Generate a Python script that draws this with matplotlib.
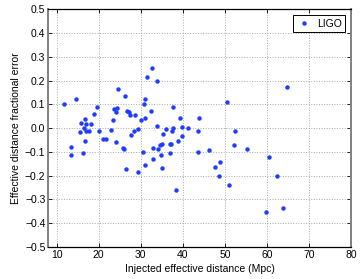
import matplotlib
matplotlib.use("Agg")
from matplotlib import pyplot as plt
from matplotlib.ticker import MultipleLocator

plt.rcParams['font.family'] = ['Liberation Sans', 'DejaVu Sans']

# injected effective distance (Mpc)
distance = [11.8, 14.6, 24.6, 26.2, 19.5, 19.0, 16.7, 15.7, 16.9, 18.2,
            16.6, 15.6, 16.9, 17.8, 20.0, 21.0, 21.8, 22.9, 24.0, 23.3,
            24.1, 23.6, 24.3, 26.8, 27.3, 27.5, 28.7, 30.0, 30.7, 31.0,
            31.1, 29.4, 28.4, 27.6, 25.8, 25.9, 13.5, 13.4, 16.2, 16.8,
            30.5, 32.6, 31.6, 33.8, 37.7, 50.4, 32.4, 39.3, 43.8, 33.8,
            35.9, 37.7, 37.5, 39.7, 41.2, 43.7, 52.5, 35.4, 39.8, 38.9,
            52.2, 32.9, 34.1, 34.6, 35.1, 36.9, 37.2, 34.9, 36.9, 43.6,
            46.2, 26.4, 29.4, 31.1, 33.0, 35.0, 38.4, 48.9, 47.7, 48.6,
            51.1, 64.8, 55.2, 60.5, 62.4, 63.8, 59.7]

# effective distance fractional error
frac_error = [0.100, 0.124, 0.166, 0.134, 0.087, 0.058, 0.038, 0.021, 0.018, 0.017,
              0.000, -0.016, -0.014, -0.011, -0.011, -0.047, -0.048, -0.007, -0.058, 0.035,
              0.066, 0.079, 0.086, 0.073, 0.066, 0.057, 0.053, 0.033, 0.102, 0.121,
              0.041, -0.003, -0.014, -0.031, -0.083, -0.089, -0.079, -0.113, -0.104, -0.056,
              -0.102, 0.251, 0.215, 0.198, 0.087, 0.108, 0.073, 0.041, 0.044, 0.009,
              -0.006, 0.002, -0.013, 0.003, 0.001, -0.013, -0.014, -0.025, -0.033, -0.054,
              -0.073, -0.084, -0.089, -0.072, -0.069, -0.065, -0.068, -0.112, -0.103, -0.100,
              -0.093, -0.173, -0.184, -0.156, -0.130, -0.167, -0.259, -0.142, -0.162, -0.201,
              -0.238, 0.174, -0.086, -0.122, -0.203, -0.338, -0.354]

fig = plt.figure(figsize=(3.6, 2.79), dpi=100)
ax = fig.add_axes([0.134, 0.115, 0.841, 0.852])

ax.plot(distance, frac_error, 'o', color='#1f3cff', markersize=3.2,
        markeredgewidth=0, label='LIGO')

ax.set_xlim(8, 80)
ax.set_ylim(-0.5, 0.5)
ax.xaxis.set_major_locator(MultipleLocator(10))
ax.yaxis.set_major_locator(MultipleLocator(0.1))
ax.set_xticks(range(10, 81, 10))

ax.grid(True, linestyle=':', color='#a8a8a8', linewidth=0.7)
ax.tick_params(direction='in', top=True, right=True, length=3, width=0.6,
               labelsize=7.5, colors='black', pad=2)
for side in ['top', 'bottom']:
    ax.spines[side].set_linewidth(0.9)
for side in ['left', 'right']:
    ax.spines[side].set_color('#808080')
    ax.spines[side].set_linewidth(1.4)

ax.set_xlabel('Injected effective distance (Mpc)', fontsize=7.5, labelpad=3)
ax.set_ylabel('Effective distance fractional error', fontsize=7.5, labelpad=3)

leg = ax.legend(loc='upper right', fontsize=7.5, numpoints=1, fancybox=False,
                framealpha=1, borderpad=0.3, handlelength=1.5,
                handletextpad=0.5, borderaxespad=0.6)
leg.get_frame().set_edgecolor('black')
leg.get_frame().set_linewidth(0.7)

fig.savefig('out.png', dpi=100)
